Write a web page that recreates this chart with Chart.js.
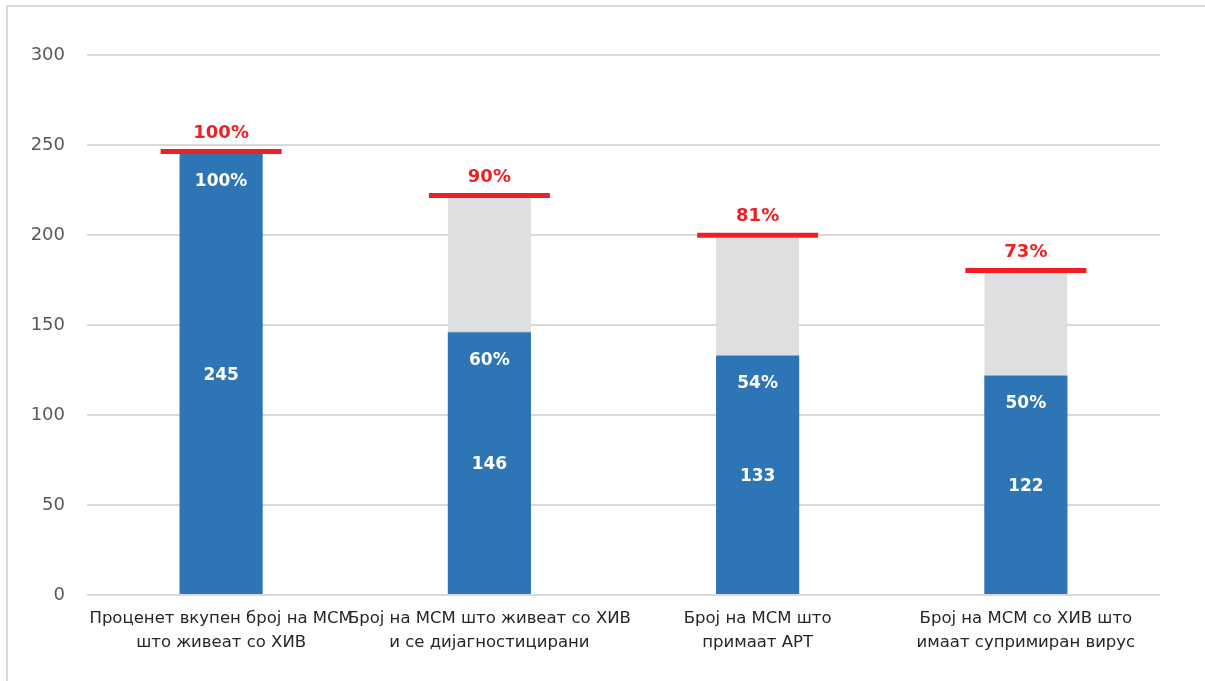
<!DOCTYPE html>
<html>
<head>
<meta charset="utf-8">
<script src="https://cdn.jsdelivr.net/npm/chart.js@4/dist/chart.umd.min.js"></script>
<style>
  html, body { margin: 0; padding: 0; background: #ffffff; width: 1205px; height: 681px; overflow: hidden; }
  #frame { position: absolute; left: 6px; top: 5px; width: 1220px; height: 700px; border: 2px solid #D9D9D9; box-sizing: border-box; }
  #wrap { position: absolute; left: 0; top: 0; width: 1205px; height: 681px; }
</style>
</head>
<body>
<div id="frame"></div>
<div id="wrap"><canvas id="c" width="1205" height="681"></canvas></div>
<script>
// Cascade stages (MSM living with HIV)
const categories = [
  ['Проценет вкупен број на МСМ', 'што живеат со ХИВ'],
  ['Број на МСМ што живеат со ХИВ', 'и се дијагностицирани'],
  ['Број на МСМ што', 'примаат АРТ'],
  ['Број на МСМ со ХИВ што', 'имаат супримиран вирус']
];
const achievedValues = [245, 146, 133, 122];   // blue segments
const targetPercents = [100, 90, 81, 73];        // red target markers
const yTicks = [0, 50, 100, 150, 200, 250, 300];

const estimatedTotal = achievedValues[0];
const targetValues = targetPercents.map(p => estimatedTotal * p / 100);
const gapValues = targetValues.map((t, i) => Math.max(0, t - achievedValues[i]));
const achievedPercents = achievedValues.map(v => Math.round(v / estimatedTotal * 100));

const BLUE = '#2E75B6';
const GREY = '#DEDFE1';
const RED = '#EE2026';
const FONT = "'DejaVu Sans', Verdana, sans-serif";
const TARGET_INDEX = 2;

// Target markers sit on top of the bar rather than straddling it
const liftTargets = {
  id: 'liftTargets',
  beforeDatasetDraw(chart, args) {
    if (args.index === TARGET_INDEX) { chart.ctx.save(); chart.ctx.translate(0, -2.5); }
  },
  afterDatasetDraw(chart, args) {
    if (args.index === TARGET_INDEX) { chart.ctx.restore(); }
  }
};

const barLabels = {
  id: 'barLabels',
  afterDatasetsDraw(chart) {
    const ctx = chart.ctx;
    const y = chart.scales.y;
    const blueMeta = chart.getDatasetMeta(0);
    ctx.save();
    ctx.textAlign = 'center';
    ctx.textBaseline = 'middle';
    blueMeta.data.forEach((bar, i) => {
      const top = y.getPixelForValue(achievedValues[i]);
      const base = y.getPixelForValue(0);
      ctx.fillStyle = '#FFFFFF';
      ctx.font = 'bold 17px ' + FONT;
      ctx.fillText(String(achievedValues[i]), bar.x, (top + base) / 2 + 1);
      ctx.fillText(achievedPercents[i] + '%', bar.x, top + 28);
      ctx.fillStyle = RED;
      ctx.font = 'bold 18px ' + FONT;
      ctx.fillText(targetPercents[i] + '%', bar.x, y.getPixelForValue(targetValues[i]) - 21);
    });
    ctx.restore();
  }
};

new Chart(document.getElementById('c'), {
  data: {
    labels: categories,
    datasets: [
      {
        type: 'bar',
        data: achievedValues,
        backgroundColor: BLUE,
        barPercentage: 0.31,
        categoryPercentage: 1,
        stack: 'cascade',
        order: 2
      },
      {
        type: 'bar',
        data: gapValues,
        backgroundColor: GREY,
        borderColor: '#B4B8BE',
        borderWidth: { top: 0, left: 0, right: 0, bottom: 1 },
        borderSkipped: false,
        barPercentage: 0.31,
        categoryPercentage: 1,
        stack: 'cascade',
        order: 2
      },
      {
        type: 'line',
        data: targetValues,
        showLine: false,
        clip: false,
        pointStyle: 'line',
        pointRadius: 60.5,
        pointHoverRadius: 60.5,
        pointBorderWidth: 5,
        pointHoverBorderWidth: 5,
        pointBorderColor: RED,
        pointBackgroundColor: RED,
        stack: 'target',
        order: 1
      }
    ]
  },
  options: {
    responsive: false,
    animation: false,
    events: [],
    layout: { autoPadding: false, padding: { top: 55, right: 45, bottom: 0, left: 0 } },
    plugins: { legend: { display: false }, tooltip: { enabled: false } },
    scales: {
      x: {
        stacked: true,
        grid: { display: false },
        border: { display: false },
        ticks: {
          color: '#262626',
          font: { family: FONT, size: 16.5, lineHeight: 1.45 },
          padding: 4,
          maxRotation: 0,
          autoSkip: false
        },
        afterFit(scale) { scale.height = 86; }
      },
      y: {
        stacked: true,
        min: 0,
        max: 300,
        afterBuildTicks(scale) { scale.ticks = yTicks.map(v => ({ value: v })); },
        grid: { color: '#D9D9D9', lineWidth: 2, drawTicks: false },
        border: { display: false },
        ticks: {
          color: '#595959',
          font: { family: FONT, size: 18 },
          padding: 22
        },
        afterFit(scale) { scale.width = 87; }
      }
    }
  },
  plugins: [liftTargets, barLabels]
});
</script>
</body>
</html>
